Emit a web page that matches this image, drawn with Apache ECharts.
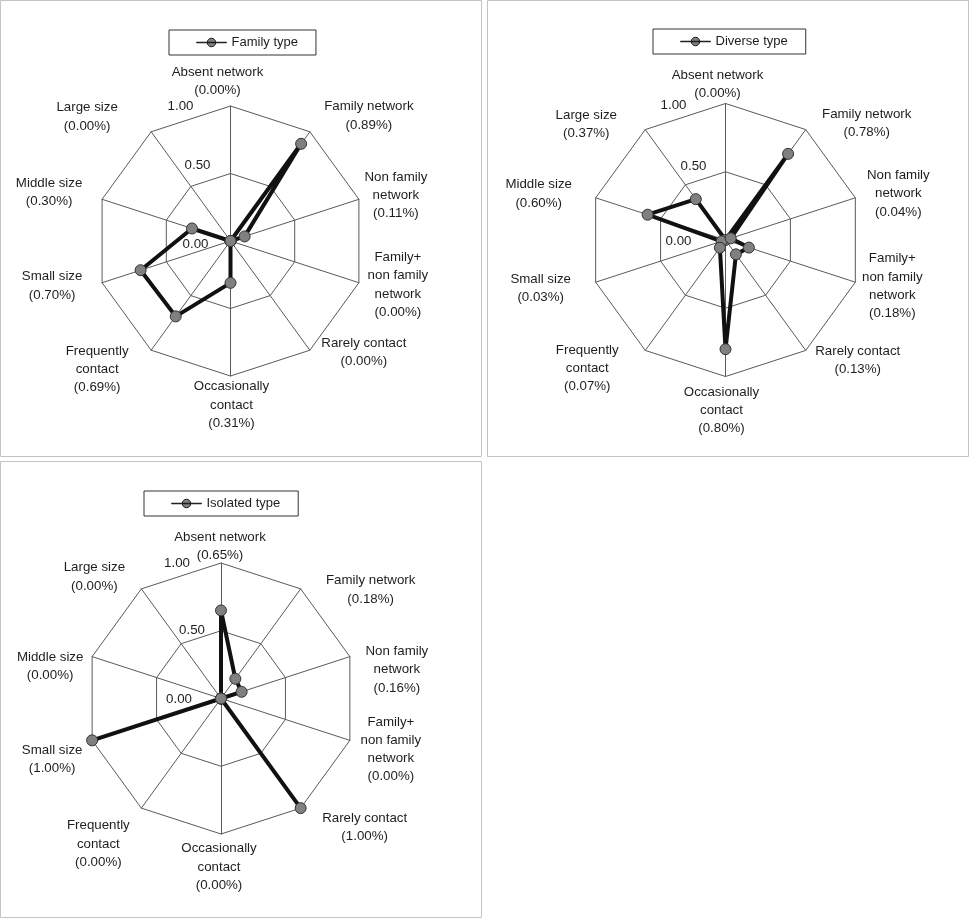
<!DOCTYPE html>
<html>
<head>
<meta charset="utf-8">
<script src="https://cdn.jsdelivr.net/npm/echarts@6/dist/echarts.min.js"></script>
<style>
html,body{margin:0;padding:0;background:#fff;}
#chart{width:969px;height:918px;}
</style>
</head>
<body>
<div id="chart"></div>
<script>
// ---------------- DATA ----------------
const categories = ['Absent network','Family network','Non family network','Family+ non family network','Rarely contact','Occasionally contact','Frequently contact','Small size','Middle size','Large size'];
const categoryLines = [['Absent network'],['Family network'],['Non family','network'],['Family+','non family','network'],['Rarely contact'],['Occasionally','contact'],['Frequently','contact'],['Small size'],['Middle size'],['Large size']];
const seriesNames = ['Family type','Diverse type','Isolated type'];
const familyValues   = [0.00, 0.89, 0.11, 0.00, 0.00, 0.31, 0.69, 0.70, 0.30, 0.00];
const diverseValues  = [0.00, 0.78, 0.04, 0.18, 0.13, 0.80, 0.07, 0.03, 0.60, 0.37];
const isolatedValues = [0.65, 0.18, 0.16, 0.00, 1.00, 0.00, 0.00, 1.00, 0.00, 0.00];
const tickValues = [0, 0.5, 1];
const tickLabels = ['0.00', '0.50', '1.00'];
const allValues = [familyValues, diverseValues, isolatedValues];

// ---------------- LAYOUT ----------------
const FONT = '"Liberation Sans", Arial, sans-serif';
const panels = [
  { box:[0.5,0.5,481,456], cx:230.5, cy:241, r:135, legendLeft:169, legendTop:30,
    nameOff:[[-13,-25],[59,-16],[37,-4],[39,2],[54,2],[1,29],[-54,19],[-50,3],[-53,-7],[-64,-15]],
    tickOff:[[-22,3],[-20,-8],[-37,0]] },
  { box:[487.5,0.5,481,456], cx:725.5, cy:240, r:136.5, legendLeft:653, legendTop:29,
    nameOff:[[-8,-19],[61,-6],[43,-4],[37,4],[52,10],[-4,34],[-58,18],[-55,6],[-57,-4],[-59,-5]],
    tickOff:[[-34,1],[-19,-5],[-39,2]] },
  { box:[0.5,461.5,481,456], cx:221, cy:698.5, r:135.5, legendLeft:144, legendTop:491,
    nameOff:[[-1,-17],[70,1],[47,13],[41,9],[64,19],[-2,33],[-43,36],[-40,19],[-42,10],[-47,-12]],
    tickOff:[[-29,1],[-16,0],[-31,0]] }
];

// ECharts places radar indicators counter-clockwise; reference runs clockwise.
const n = categories.length;
const order = [0].concat(Array.from({length:n-1}, (_, k) => n-1-k));
const indicator = order.map(i => ({ name: categories[i], min: 0, max: 1 }));

const legendIcon = 'path://M0,4.5 L30,4.5 L30,5 L0,5 Z M10.75,4.75 A4.25,4.25 0 1 1 19.25,4.75 A4.25,4.25 0 1 1 10.75,4.75 Z';

const graphics = [];
panels.forEach((p, k) => {
  graphics.push({ type:'rect', z:0, silent:true,
    shape:{ x:p.box[0], y:p.box[1], width:p.box[2], height:p.box[3] },
    style:{ fill:'none', stroke:'#c3c3c3', lineWidth:1 } });
  // indicator names with values
  for (let i = 0; i < n; i++) {
    const ang = (90 - 360 / n * i) * Math.PI / 180;
    const vx = p.cx + p.r * Math.cos(ang);
    const vy = p.cy - p.r * Math.sin(ang);
    const txt = categoryLines[i].join('\n') + '\n(' + allValues[k][i].toFixed(2) + '%)';
    graphics.push({ type:'text', z:10, silent:true,
      style:{ text: txt, x: vx + p.nameOff[i][0], y: vy + p.nameOff[i][1],
        align:'center', verticalAlign:'middle', lineHeight:18.3,
        fontSize:13.3, fontFamily:FONT, fill:'#1e1e1e' } });
  }
  // tick labels along the top axis
  tickValues.forEach((t, j) => {
    graphics.push({ type:'text', z:10, silent:true,
      style:{ text: tickLabels[j], x: p.cx + p.tickOff[j][0], y: p.cy - t * p.r + p.tickOff[j][1],
        align:'right', verticalAlign:'middle', fontSize:13.3, fontFamily:FONT, fill:'#1e1e1e' } });
  });
});

const option = {
  animation: false,
  backgroundColor: '#fff',
  legend: panels.map((p, k) => ({
    data: [{ name: seriesNames[k], icon: legendIcon }],
    left: p.legendLeft, top: p.legendTop,
    padding: [6, 18, 6, 27],
    borderColor: '#333', borderWidth: 1,
    itemWidth: 30, itemHeight: 9,
    selectedMode: false,
    itemStyle: { color: '#808080', borderColor: '#1a1a1a', borderWidth: 1 },
    textStyle: { fontSize: 13, color: '#1e1e1e', fontFamily: FONT }
  })),
  radar: panels.map(p => ({
    center: [p.cx, p.cy],
    radius: p.r,
    startAngle: 90,
    splitNumber: 2,
    shape: 'polygon',
    indicator: indicator,
    axisName: { show: false },
    splitArea: { show: false },
    splitLine: { lineStyle: { color: '#5a5a5a', width: 1 } },
    axisLine: { lineStyle: { color: '#5a5a5a', width: 1 } },
    axisTick: { show: false },
    axisLabel: { show: false }
  })),
  series: panels.map((p, k) => ({
    type: 'radar',
    radarIndex: k,
    symbol: 'circle',
    symbolSize: 11,
    lineStyle: { color: '#111', width: 4 },
    itemStyle: { color: '#808080', borderColor: '#333', borderWidth: 1 },
    data: [{ name: seriesNames[k], value: order.map(i => allValues[k][i]) }]
  })),
  graphic: graphics
};

const chart = echarts.init(document.getElementById('chart'), null, { renderer: 'canvas' });
chart.setOption(option);
</script>
</body>
</html>
